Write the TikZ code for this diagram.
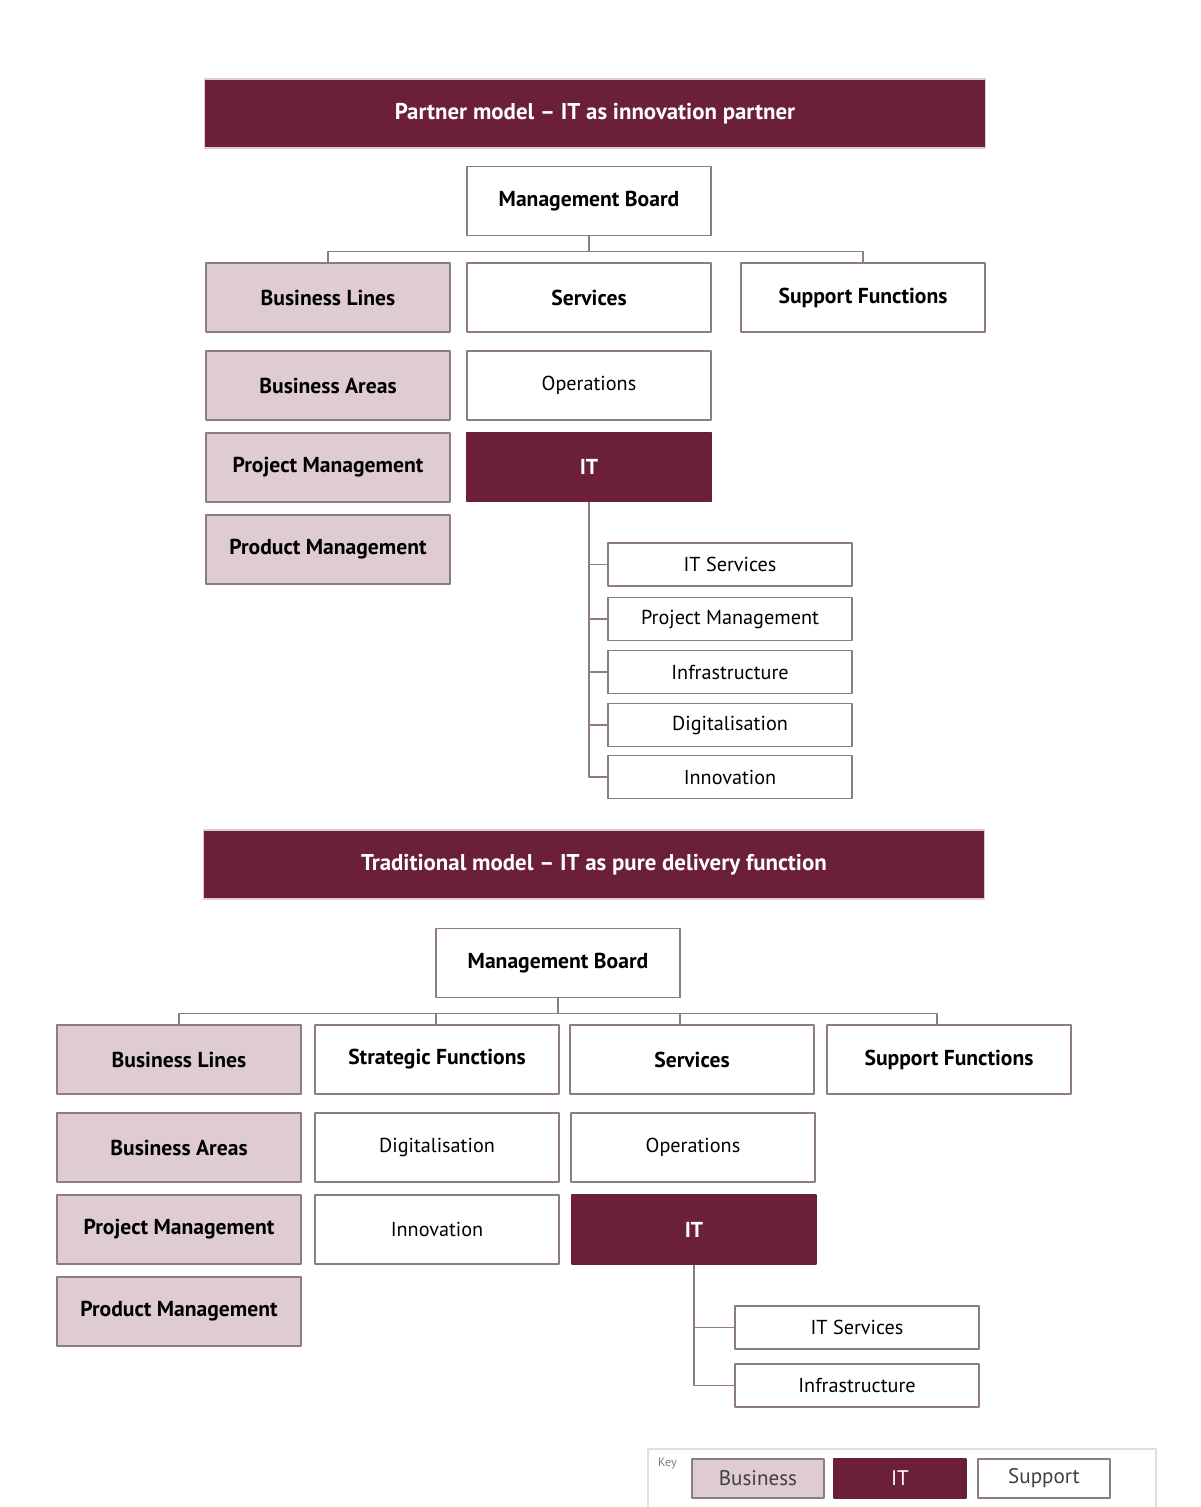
\documentclass[tikz,border=0pt]{standalone}
\usepackage{fontspec}
\setmainfont{PT Sans}
\definecolor{wine}{HTML}{6B1F3B}
\definecolor{rose}{HTML}{DECCD1}
\definecolor{edge}{HTML}{8E7C83}
\begin{document}
\begin{tikzpicture}[x=0.02cm, y=-0.02cm, line join=round,
  font=\fontsize{11.5}{13}\selectfont,
  box/.style={draw=edge, line width=0.8pt, minimum width=4.88cm, minimum height=1.38cm, inner sep=0pt},
  biz/.style={box, fill=rose, font=\fontsize{12.3}{14}\selectfont\bfseries},
  head/.style={box, fill=white, font=\fontsize{12.3}{14}\selectfont\bfseries},
  unit/.style={box, fill=white},
  itbox/.style={box, fill=wine, draw=wine, text=white, font=\fontsize{12.3}{14}\selectfont\bfseries},
  sub/.style={box, fill=white, minimum height=0.86cm},
  band/.style={fill=wine, draw=rose, line width=0.6pt, text=white, minimum width=15.64cm, minimum height=1.38cm, font=\fontsize{13}{15}\selectfont\bfseries},
  keybox/.style={draw=edge, line width=0.8pt, minimum width=2.64cm, minimum height=0.78cm, inner sep=0pt, font=\fontsize{12}{14}\selectfont},
  link/.style={draw=edge, line width=0.7pt}]
\useasboundingbox (0,0) rectangle (1200,1507);
% Partner model
\node[band] (ttl1) at (595,113.5) {Partner model – IT as innovation partner};
\node[head] (mb1) at (589,201) {Management Board};
\node[biz]  (bl1) at (328,297.5) {Business Lines};
\node[head] (sv1) at (589,297.5) {Services};
\node[head] (sf1) at (863,297.5) {Support Functions};
\node[biz]  (ba1) at (328,385.5) {Business Areas};
\node[unit] (op1) at (589,385.5) {Operations};
\node[biz]  (pj1) at (328,467.5) {Project Management};
\node[itbox] (it1) at (589,467) {IT};
\node[biz]  (pd1) at (328,549.5) {Product Management};
\node[sub] (its1) at (730,564.5) {IT Services};
\node[sub] (prj1) at (730,619) {Project Management};
\node[sub] (inf1) at (730,672) {Infrastructure};
\node[sub] (dig1) at (730,725) {Digitalisation};
\node[sub] (inn1) at (730,777) {Innovation};
\draw[link] (mb1.south) -- ++(0,15) coordinate (j1);
\draw[link] (bl1.north) |- (j1) -| (sf1.north);
\foreach \s in {its1,prj1,inf1,dig1,inn1}
  \draw[link] (it1.south) |- (\s.west);
% Traditional model
\node[band] (ttl2) at (594,864.5) {Traditional model – IT as pure delivery function};
\node[head] (mb2) at (558,963) {Management Board};
\node[biz]  (bl2) at (179,1059.5) {Business Lines};
\node[head] (st2) at (437,1059.5) {Strategic Functions};
\node[head] (sv2) at (692,1059.5) {Services};
\node[head] (sf2) at (949,1059.5) {Support Functions};
\node[biz]  (ba2) at (179,1147.5) {Business Areas};
\node[unit] (dg2) at (437,1147.5) {Digitalisation};
\node[unit] (op2) at (693,1147.5) {Operations};
\node[biz]  (pj2) at (179,1229.5) {Project Management};
\node[unit] (in2) at (437,1229.5) {Innovation};
\node[itbox] (it2) at (694,1229.5) {IT};
\node[biz]  (pd2) at (179,1311.5) {Product Management};
\node[sub] (its2) at (857,1327.5) {IT Services};
\node[sub] (inf2) at (857,1385.5) {Infrastructure};
\draw[link] (mb2.south) -- ++(0,15) coordinate (j2);
\draw[link] (bl2.north) |- (j2) -| ([xshift=-0.24cm]sf2.north);
\draw[link] ([xshift=-0.02cm]st2.north) -- ([xshift=-0.02cm]st2.north |- j2);
\draw[link] ([xshift=-0.24cm]sv2.north) -- ([xshift=-0.24cm]sv2.north |- j2);
\foreach \s in {its2,inf2}
  \draw[link] (it2.south) |- (\s.west);
% Key
\draw[gray!25, line width=0.8pt] (648,1507) |- (1156,1449) -- (1156,1507);
\node[text=gray, font=\fontsize{7}{8}\selectfont, anchor=west] (key) at (652,1463) {Key};
\node[keybox, fill=rose, text=black!75] (kb) at (758,1478.5) {Business};
\node[keybox, fill=wine, draw=wine, text=white] (ki) at (900,1478.5) {IT};
\node[keybox, fill=white, text=black!75] (ks) at (1044,1478.5) {Support};
\end{tikzpicture}
\end{document}
